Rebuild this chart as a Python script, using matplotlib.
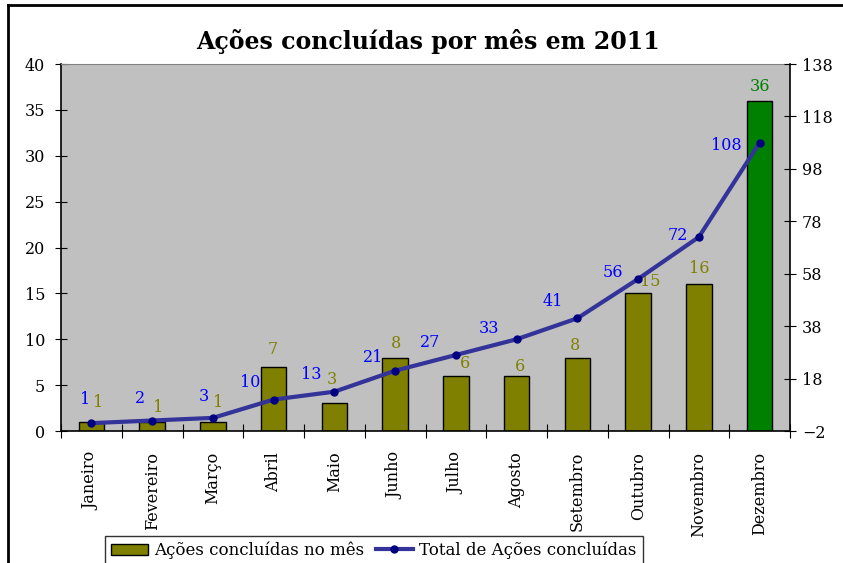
import numpy as np
import matplotlib
matplotlib.use("Agg")
import matplotlib.pyplot as plt
from matplotlib.lines import Line2D

# =============================
# DATA
# =============================
months = ['Janeiro', 'Fevereiro', 'Março', 'Abril', 'Maio', 'Junho',
          'Julho', 'Agosto', 'Setembro', 'Outubro', 'Novembro', 'Dezembro']
monthly_done = [1, 1, 1, 7, 3, 8, 6, 6, 8, 15, 16, 36]
cumulative_done = [1, 2, 3, 10, 13, 21, 27, 33, 41, 56, 72, 108]

left_ticks = [0, 5, 10, 15, 20, 25, 30, 35, 40]
right_ticks = [-2, 18, 38, 58, 78, 98, 118, 138]

# =============================
# STYLE
# =============================
FONT = 'DejaVu Serif'
OLIVE = '#808000'
GREEN = '#008000'
LINE_BLUE = '#333399'
LABEL_BLUE = '#0000FF'
plt.rcParams['font.family'] = FONT

# label nudges in pixels (label centre relative to the mark)
BAR_LABEL_OFFSETS = [(7, 19), (6, 14), (5, 19), (-1, 17), (-2, 24), (1, 14),
                     (9, 12), (3, 9), (-2, 12), (12, 12), (0, 16), (0, 14)]
LINE_LABEL_OFFSETS = [(-6, 24), (-12, 22), (-9, 21), (-23, 17), (-23, 17),
                      (-22, 13), (-26, 12), (-28, 11), (-25, 17), (-25, 6),
                      (-21, 2), (-33, -3)]

fig = plt.figure(figsize=(8.43, 5.63), dpi=100)
ax = fig.add_axes([61 / 843, 1 - 431 / 563, (790 - 61) / 843, (431 - 64) / 563])
ax.set_facecolor('#C0C0C0')

x = np.arange(len(months))
bar_colors = [OLIVE] * (len(months) - 1) + [GREEN]
bars = ax.bar(x, monthly_done, width=0.42, color=bar_colors,
              edgecolor='black', linewidth=1, zorder=2)

ax.set_xlim(-0.5, len(months) - 0.5)
ax.set_ylim(0, 40)
ax.set_yticks(left_ticks)
ax.tick_params(axis='y', direction='inout', length=9, labelsize=11.5, pad=7)

# category ticks at boundaries, labels at centres
ax.set_xticks(np.arange(-0.5, len(months)), labels=[''] * (len(months) + 1))
ax.set_xticks(x, labels=months, minor=True)
ax.tick_params(axis='x', which='major', direction='inout', length=10)
ax.tick_params(axis='x', which='minor', length=0, labelsize=11.5,
               labelrotation=90, pad=15)

for s in ['left', 'bottom']:
    ax.spines[s].set_linewidth(1.2)
ax.spines['top'].set_color('#808080')
ax.spines['right'].set_visible(False)

# bar labels
for i, v in enumerate(monthly_done):
    ax.annotate(str(v), (i, v), xytext=BAR_LABEL_OFFSETS[i],
                textcoords='offset pixels', ha='center', va='center',
                fontsize=11.5, color=bar_colors[i])

# secondary axis with cumulative line
ax2 = ax.twinx()
ax2.set_ylim(-2, 138)
ax2.set_yticks(right_ticks)
ax2.tick_params(axis='y', direction='inout', length=9, labelsize=11.5, pad=4)
ax2.spines['right'].set_linewidth(1.2)
for s in ['left', 'top', 'bottom']:
    ax2.spines[s].set_visible(False)

ax2.plot(x, cumulative_done, color=LINE_BLUE, linewidth=3, marker='o',
         markersize=5, markerfacecolor='#000080', markeredgecolor='#000080',
         zorder=3)
for i, v in enumerate(cumulative_done):
    ax2.annotate(str(v), (i, v), xytext=LINE_LABEL_OFFSETS[i],
                 textcoords='offset pixels', ha='center', va='center',
                 fontsize=11.5, color=LABEL_BLUE)

fig.suptitle('Ações concluídas por mês em 2011', x=0.508, y=1 - 42 / 563,
             va='center', fontsize=17, fontweight='bold')

handles = [
    plt.Rectangle((0, 0), 1, 1, facecolor=OLIVE, edgecolor='black'),
    Line2D([], [], color=LINE_BLUE, linewidth=3, marker='o', markersize=5,
           markerfacecolor='#000080', markeredgecolor='#000080'),
]
leg = fig.legend(handles, ['Ações concluídas no mês', 'Total de Ações concluídas'],
                 loc='upper left', bbox_to_anchor=(105 / 843, 1 - 536 / 563),
                 ncol=2, fontsize=12, frameon=True, fancybox=False,
                 edgecolor='black', borderpad=0.35, handlelength=2.2,
                 columnspacing=0.7, handletextpad=0.4, borderaxespad=0)
leg.get_frame().set_linewidth(1)

# outer chart border (left and top visible)
fig.add_artist(Line2D([8 / 843, 8 / 843], [0, 1 - 5 / 563], color='black',
                      linewidth=2, transform=fig.transFigure))
fig.add_artist(Line2D([8 / 843, 1], [1 - 5 / 563, 1 - 5 / 563], color='black',
                      linewidth=2, transform=fig.transFigure))

fig.savefig('out.png', dpi=100)
